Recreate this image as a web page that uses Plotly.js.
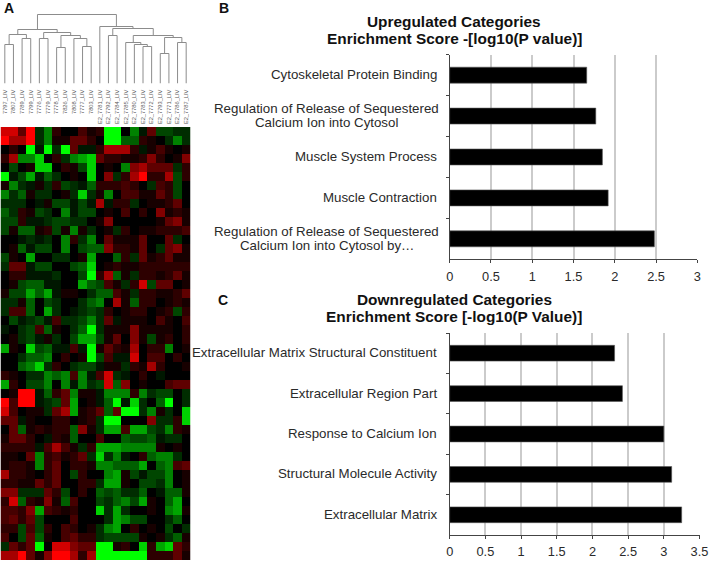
<!DOCTYPE html>
<html>
<head>
<meta charset="utf-8">
<script src="https://cdn.plot.ly/plotly-3.0.1.min.js"></script>
<style>html,body{margin:0;padding:0;background:#fff}</style>
</head>
<body>
<div id="chart" style="width:709px;height:562px"></div>
<script>
const sampleLabels = ["7797_LIV","7807_LIV","7789_LIV","7799_LIV","7776_LIV","7779_LIV","7778_LIV","7826_LIV","7808_LIV","7777_LIV","7803_LIV","E2_7781_LIV","E2_7792_LIV","E2_7784_LIV","E2_7785_LIV","E2_7780_LIV","E2_7783_LIV","E2_7772_LIV","E2_7793_LIV","E2_7771_LIV","E2_7786_LIV","E2_7787_LIV"];

const heatValues = [
[3.5,3.5,2,4,-1,-2.5,1,0,0,1.5,0.5,1,-4,-4,0,-2.5,-0.5,2,-1.5,-1.5,-1,-1],
[4,3,3,4,-1,-2.5,0.5,0.5,2,2,1,0,-4,-4,-2,-2,1,0.5,0,-1,-2.5,-1],
[0,1,0,-4,-0.5,-4,-1,-4,2,-0.5,-0.5,1,3,3,3,1,-0.5,0.5,1.5,0.5,0,0.5],
[1,3,-2.5,-2.5,-3.5,0,1,-1,-2.5,-3,-3.5,2,1,1,0.5,0.5,1,2.5,1,0,0.5,2.5],
[0,-1.5,0,0.5,-3.5,-3.5,0,1,0.5,-1.5,-3.5,0,0.5,0,-2.5,2.5,3,2,2,2,-1,1],
[-4,-0.5,-1.5,-3,-0.5,-2,-1,0,0.5,0,-3.5,0,2.5,-1,1,3,4,1,1,3,-1.5,1],
[0.5,-2.5,-1,-0.5,0.5,-1,1,-1.5,-1,-0.5,-2,1,1,1,1.5,1,0,-1,1.5,1,-1.5,0],
[-2.5,-1,-2,0.5,-1,-1,0,0.5,-1,-3.5,-1,0.5,-2.5,0,1.5,1.5,0.5,0.5,2,1,-1.5,0],
[-1,-1,-1,0,-0.5,0.5,-1.5,-1.5,-0.5,-1.5,-0.5,3,-0.5,1,1,-1,0,0.5,0.5,1,2,0],
[-2,-1,1,0.5,-1.5,-1,0,-2.5,-0.5,-1.5,-1.5,0,0.5,0,1.5,0,1,0,2.5,0.5,1,0.5],
[-1.5,-1.5,1,-0.5,-0.5,-1,-1.5,-1.5,-1,-1,0,0.5,2.5,0,0,0,0,0,0.5,2,2.5,0.5],
[-1.5,0.5,-2,-2,0.5,1,-1.5,0.5,-2.5,0.5,-1,0,0.5,-1,1,0,0.5,0.5,1,1,1,1.5],
[0,0,-0.5,-1,-0.5,-1,0,-2.5,1,-1,-2.5,0,2,0.5,0.5,0.5,2,0,0,2,-1,0],
[0,0.5,-2,-0.5,-1.5,-1.5,0,-2.5,0,-1.5,-2,-2,2.5,1,1,0.5,2,0,-1,2,2.5,0.5],
[-1.5,0.5,0,-3,0,0,-1,-1,0,0.5,-3,0,0,-2,1,-1,2,0.5,1,2,0.5,0.5],
[-1,2,2,-0.5,-1.5,-1.5,0,0,-1.5,-2,-3.5,0,0.5,1,0.5,0.5,1,1,1,1,1,1],
[0,1,1,-0.5,-0.5,-0.5,-1,0,0,-1.5,-4,1,3,-2,0.5,-1,1,1,0.5,1,2,0.5],
[0,0.5,-1.5,-2,-2,-0.5,-0.5,0,0,-3,-2,-1.5,1.5,0.5,-1,1,3.5,-1.5,2,2,0,0.5],
[0.5,-1.5,-1.5,-3,-2,-3,-0.5,0.5,0.5,0,-1,-2,-2,1.5,0.5,-1,1,1,0.5,0.5,1,2],
[-1,-1,0.5,-2,0,-1.5,-1,0,0,-1,-2,-2.5,0,3,0.5,-2,1,1,0,0.5,1,0.5],
[-1,1.5,1.5,-2,0,-3,-1,0,-0.5,-1,-1.5,-1,1,0,0.5,1,1,0,0.5,1,-1.5,1],
[0,-1.5,-0.5,-1,-1.5,-0.5,1.5,-1,-1,-1.5,-2.5,-1,2,-0.5,0.5,0.5,0.5,0,1.5,0.5,0,1.5],
[-0.5,0,-1,-1.5,1.5,-2,0.5,0,-1,-2,-4,-1,0.5,0.5,0.5,2.5,0.5,0.5,0.5,0.5,0,1],
[0,0.5,-1,-1.5,-0.5,0.5,-1,0,-1.5,-3,-3,-1.5,0.5,2,0,2.5,0.5,-1.5,0.5,1,0,1],
[-3,0.5,0,-3.5,-1.5,-2,-0.5,-0.5,1.5,-0.5,-4,0.5,2,1,0.5,3,0,1,1,-2.5,0,0.5],
[0,0,-1,-2,-2,-2.5,0,1,0,0.5,-4,-1.5,1.5,-0.5,-0.5,3.5,0,1.5,1.5,0,1,0],
[0,0,-2,-2.5,-3.5,-1,1,0,-1,-1.5,-1.5,-0.5,0.5,0.5,-1,1,0.5,3,1,0,0,0.5],
[1,0.5,0,-1,-1,-2.5,-2,-2.5,1.5,-2.5,-0.5,1.5,3.5,-1,-0.5,0,1,0,-0.5,0,0,0],
[-3,1,0,-1.5,-1.5,-2.5,0,-2.5,-0.5,-2.5,-1,-1.5,3.5,-2,2.5,0,0.5,0,0,1.5,2,2],
[0,0.5,4,4,-0.5,-2,1,2,-2.5,0.5,0.5,-0.5,-2.5,-2.5,-2.5,1,-2.5,-1,-1.5,-1.5,0,-1],
[4,1.5,4,4,-0.5,-1,-1.5,2,-3,0,0.5,-0.5,-2,-4,-0.5,-3.5,-1,0,-2,-4,0,-1],
[3.5,1.5,0,0.5,0.5,-1,2,3,-3,0.5,1,2,-2,2,-4,-4,-1,-2.5,0.5,-1,0,-3.5],
[2,2,-0.5,0.5,0,0,1,1,0,0.5,1,-1,-4,-4,0,0,0,2.5,-1,-1,1,-3.5],
[0,2,-2,0.5,1,0.5,1,1,-2,2.5,0.5,-1,-3,-3,1.5,-3,-3,-1.5,-1,-2.5,1,0.5],
[0.5,2,2,1,0,-0.5,1,0.5,-2,0,0,1.5,0,0,-2,-1.5,-1.5,-2,-0.5,-1,-1,0],
[1,1,1,1,-0.5,1.5,3,1.5,0.5,-1,1,-3,-3,-3,-2.5,-2.5,-2.5,-2.5,0.5,0,0.5,0],
[0.5,0.5,0,2,-2.5,1,1.5,0.5,1,2,-1,-3.5,-1,-2.5,-0.5,0,1,-2,-2.5,-2.5,-1,0],
[0.5,1,1,0.5,-2.5,1,2,0,1,1,0.5,-2.5,-2.5,-2,-2,-2,-3,0,-2,-2.5,1.5,2],
[3,1,1,0.5,0,1,2,0,-1.5,1,0,0,-2.5,-3,0.5,-1.5,-0.5,-1.5,-1.5,-2.5,0,0.5],
[1,1,0.5,0.5,2,1,2,0,0,1,1,-1,-3,-3,0.5,0,-1.5,-1.5,-1,-2.5,0,0.5],
[2.5,2.5,-1,-1,-1,2,1,-1.5,0,1,0,-2,-1.5,-2,-1,-1,-2,0,-0.5,-2,-2,0.5],
[1,3.5,-2,1,0.5,2.5,0.5,-2,1.5,0,0,-1.5,-1,-2,-2.5,-1.5,-3,0.5,0,-2,-3,0],
[1.5,1.5,1,2.5,-3,1.5,1,0.5,1,0,0,-3.5,-1,-3,-1,0,0,0.5,0,-2.5,-3,0.5],
[1.5,2,1,2,-1.5,0,0,0,1.5,0,0,0,-1,-3,-2.5,-1.5,-1.5,0,0,-1,-2,0],
[1,1,-1.5,1.5,-1.5,1,0,1.5,1,0,0.5,-1,-2.5,-3,0,1,0,0.5,0,-1.5,0,-1],
[1.5,0,-1.5,2,-2,0.5,0,1.5,2,1,1,-1,-1.5,-1.5,-1.5,-1.5,0.5,0,0.5,-1,-2,0.5],
[-1,2,1,2,-4,0,3.5,3.5,2.5,2,2,-4,-4,0.5,1,0,-3.5,1,-3,-3.5,2,1],
[3,3,4,2,0.5,2.5,4,4,3,1,3,-4,-4,-4,-4,-4,-4,1,1,1,2,0.5]
];

// Dendrogram merges: node ids 0-21 are leaves, each row below creates the next id (22, 23, ...)
const mergeLeft   = [0,2,22,4,6,9,8,26,25,24,16,15,14,18,20,35,34,12,39,11,31];
const mergeRight  = [1,3,23,5,7,10,27,28,29,30,17,32,33,19,21,36,37,13,38,40,41];
const mergeHeight = [39,45,49,45,36,37,45,48,51,54,37,39,41,30,41,46,48,48,55,57,69];

const upCategories = ["Cytoskeletal Protein Binding","Regulation of Release of Sequestered<br>Calcium Ion into Cytosol","Muscle System Process","Muscle Contraction","Regulation of Release of Sequestered<br>Calcium Ion into Cytosol by…"];
const upValues = [1.66,1.77,1.85,1.92,2.48];
const upTicks = [0,0.5,1,1.5,2,2.5,3];

const downCategories = ["Extracellular Matrix Structural Constituent","Extracellular Region Part","Response to Calcium Ion","Structural Molecule Activity","Extracellular Matrix"];
const downValues = [2.31,2.42,3.0,3.11,3.25];
const downTicks = [0,0.5,1,1.5,2,2.5,3,3.5];

const upTitle = ["Upregulated Categories","Enrichment Score -[log10(P value)]"];
const downTitle = ["Downregulated Categories","Enrichment Score [-log10(P Value)]"];

const W = 709, H = 562;
const xDom = (a,b)=>[a/W,b/W];
const yDom = (top,bottom)=>[1-bottom/H,1-top/H];
const FONT = '"Liberation Sans", Arial, sans-serif';
const LABEL_SIZE = 13.3, LABEL_COLOR = '#2a2a2a';

// Dendrogram paths built from the merge table
const nodes = sampleLabels.map((_,i)=>({x:i,h:0}));
const dendX=[], dendY=[];
mergeLeft.forEach((l,i)=>{
  const a=nodes[l], b=nodes[mergeRight[i]], h=mergeHeight[i];
  dendX.push(a.x,a.x,b.x,b.x,null);
  dendY.push(a.h,h,h,b.h,null);
  nodes.push({x:(a.x+b.x)/2,h});
});

const traces = [
  {type:'scatter',mode:'lines',x:dendX,y:dendY,xaxis:'x2',yaxis:'y2',
   line:{color:'#8c8c8c',width:1},hoverinfo:'skip',showlegend:false,connectgaps:false},
  {type:'heatmap',z:heatValues,xaxis:'x',yaxis:'y',zmin:-4,zmax:4,showscale:false,
   colorscale:[[0,'#00ff00'],[0.125,'#00a500'],[0.25,'#005f00'],[0.375,'#002d00'],[0.5,'#000000'],
               [0.625,'#2d0000'],[0.75,'#5f0000'],[0.875,'#a50000'],[1,'#ff0000']]},
  {type:'bar',orientation:'h',y:upCategories,x:upValues,xaxis:'x3',yaxis:'y3',
   marker:{color:'#000',line:{color:'#555',width:0.6}},showlegend:false},
  {type:'bar',orientation:'h',y:downCategories,x:downValues,xaxis:'x4',yaxis:'y4',
   marker:{color:'#000',line:{color:'#555',width:0.6}},showlegend:false}
];

const barX = (range,ticks,dom,anchor)=>({domain:dom,range,anchor,tickvals:ticks,ticktext:ticks.map(String),
  showgrid:true,gridcolor:'#cbcbcb',gridwidth:2,zeroline:false,showline:true,linecolor:'#444',linewidth:1,
  ticks:'outside',ticklen:3,tickcolor:'#444',ticklabelstandoff:2,tickfont:{family:FONT,size:12.8,color:LABEL_COLOR}});
const barY = (cats,dom,anchor)=>({domain:dom,anchor,type:'category',categoryorder:'array',categoryarray:cats,
  autorange:'reversed',tickson:'boundaries',ticks:'outside',ticklen:3,tickcolor:'#444',showticklabels:false,
  showline:true,linecolor:'#444',linewidth:1,showgrid:false,zeroline:false});
// Category labels: one annotation per text line so wrapped labels sit centred on each other with tight spacing
const catAnn = (cats,xref,yref)=>cats.flatMap(c=>{
  const lines=c.split('<br>');
  if(lines.length===1) return [{text:c,x:0,y:c,xref,yref,xanchor:'right',yanchor:'middle',xshift:-11,yshift:0.5,
    showarrow:false,font:{family:FONT,size:LABEL_SIZE,color:LABEL_COLOR}}];
  return lines.map((t,i)=>({text:t,x:0,y:c,xref,yref,xanchor:'center',yanchor:'middle',xshift:-123,
    yshift:(i===0?7.7:-6.7),showarrow:false,font:{family:FONT,size:LABEL_SIZE,color:LABEL_COLOR}}));
});
const titleAnn = (t,cx,cy)=>({text:t,x:cx/W,y:1-cy/H,xref:'paper',yref:'paper',xanchor:'center',yanchor:'middle',
  showarrow:false,font:{family:FONT,size:15.4,color:'#111',weight:700}});
const letterAnn = (t,cx,cy)=>({text:'<b>'+t+'</b>',x:cx/W,y:1-cy/H,xref:'paper',yref:'paper',xanchor:'center',yanchor:'middle',
  showarrow:false,font:{family:FONT,size:14,color:'#111'}});

const layout = {
  width:W,height:H,margin:{l:0,r:0,t:0,b:0},paper_bgcolor:'#fff',plot_bgcolor:'#fff',showlegend:false,bargap:0.61,
  xaxis:{domain:xDom(0.5,190.5),range:[-0.5,21.5],anchor:'y',visible:false,fixedrange:true},
  yaxis:{domain:yDom(127,560),range:[47.5,-0.5],anchor:'x',visible:false,fixedrange:true},
  xaxis2:{domain:xDom(0.5,190.5),range:[-0.5,21.5],anchor:'y2',tickmode:'array',tickvals:sampleLabels.map((_,i)=>i),
    ticktext:sampleLabels,tickangle:-90,showgrid:false,zeroline:false,showline:false,ticks:'',ticklabelstandoff:4,
    tickfont:{family:FONT,size:5.7,color:'#555'}},
  yaxis2:{domain:yDom(14,83.5),range:[0,69.5],anchor:'x2',visible:false},
  xaxis3:barX([0,3],upTicks,xDom(449.7,697.3),'y3'),
  yaxis3:barY(upCategories,yDom(54.7,259.3),'x3'),
  xaxis4:barX([0,3.5],downTicks,xDom(449.7,699.5),'y4'),
  yaxis4:barY(downCategories,yDom(333,535),'x4'),
  annotations:[
    ...catAnn(upCategories,'x3','y3'),
    ...catAnn(downCategories,'x4','y4'),
    titleAnn(upTitle[0],454,22),titleAnn(upTitle[1],454,39),
    titleAnn(downTitle[0],454,299),titleAnn(downTitle[1],454,316),
    letterAnn('A',9,7.5),letterAnn('B',224,8.5),letterAnn('C',222.7,300)
  ]
};
Plotly.newPlot('chart',traces,layout,{displayModeBar:false,staticPlot:true});
</script>
</body>
</html>
